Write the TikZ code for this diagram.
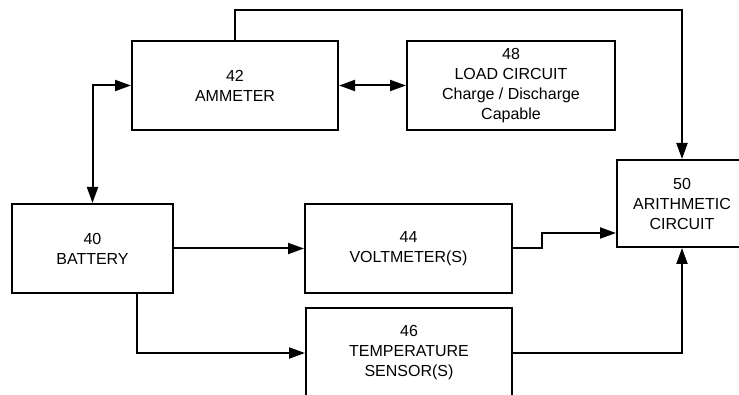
\documentclass[tikz,border=0pt]{standalone}
\usepackage{fontspec}
\setmainfont{Liberation Sans}
\usetikzlibrary{arrows.meta}
\tikzset{
  blk/.style={draw, line width=2pt, align=center, inner sep=0pt, minimum height=89pt, font=\fontsize{16}{20}\selectfont},
  arr/.style={line width=2pt, -{Triangle[length=16pt,width=11pt]}},
  dbl/.style={line width=2pt, {Triangle[length=16pt,width=11pt]}-{Triangle[length=16pt,width=11pt]}}
}
\begin{document}
\begin{tikzpicture}[x=1pt, y=-1pt]
    \clip (0,0) rectangle (739,395);
    \fill[white] (0,0) rectangle (739,395);
    \node[blk, minimum width=206pt] (amm) at (235,85.5) {42\\AMMETER};
    \node[blk, minimum width=208pt] (load) at (511,85.5) {48\\LOAD CIRCUIT\\Charge / Discharge\\Capable};
    \node[blk, minimum width=161pt] (bat) at (92.5,248.5) {40\\BATTERY};
    \node[blk, minimum width=207pt] (volt) at (408.5,248.5) {44\\VOLTMETER(S)};
    \node[blk, minimum width=206pt, minimum height=90pt] (temp) at (409,353) {46\\TEMPERATURE\\SENSOR(S)};
    \node[blk, minimum width=130pt, minimum height=87pt] (arith) at (682,203.5) {50\\ARITHMETIC\\CIRCUIT};
    \draw[arr] (amm.north) -- ++(0,-30) -| (arith.north);
    \draw[dbl] (bat.north) |- (amm.west);
    \draw[dbl] (amm) -- (load);
    \draw[arr] (bat) -- (volt);
    \draw[arr] ([xshift=44.5pt]bat.south) |- (temp.west);
    \draw[arr] (volt.east) -- ++(29,0) |- ([yshift=-29.5pt]arith.west);
    \draw[arr] (temp.east) -| (arith.south);
\end{tikzpicture}
\end{document}
